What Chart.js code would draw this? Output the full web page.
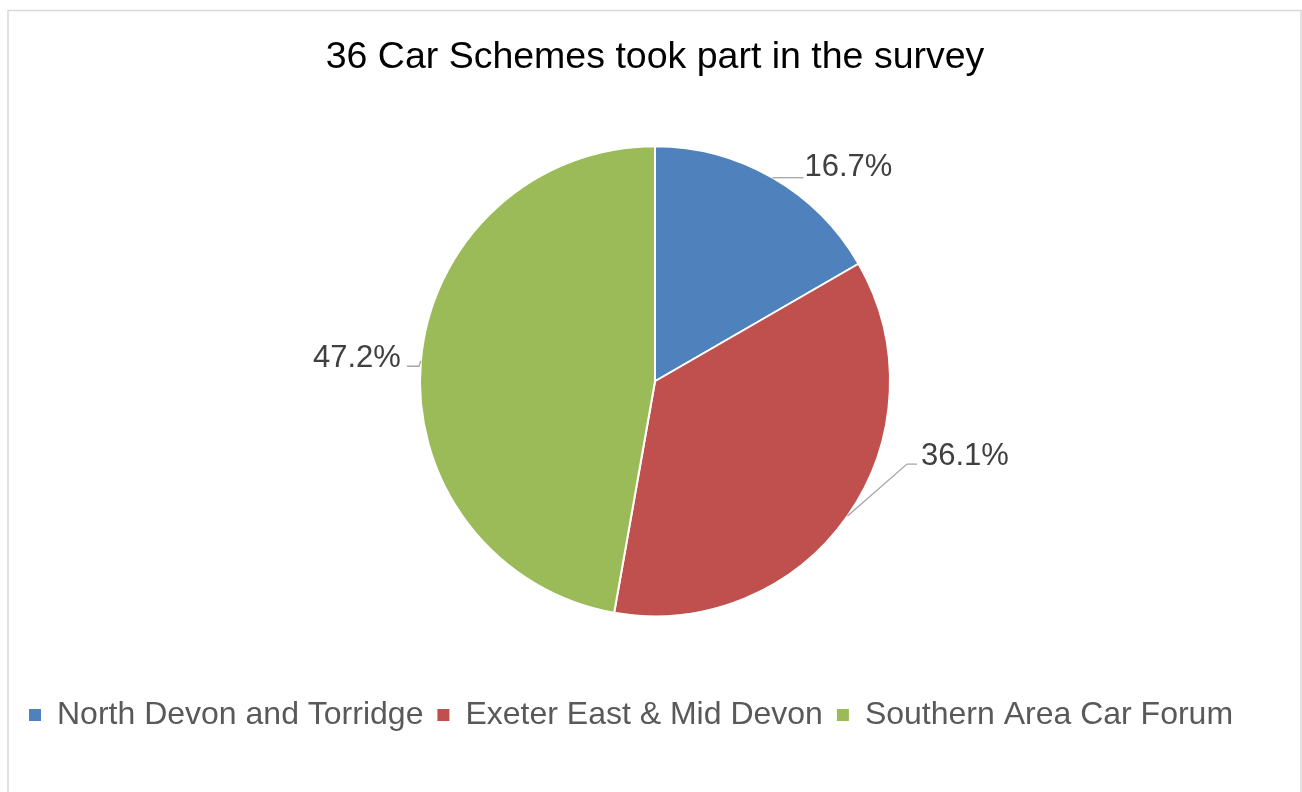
<!DOCTYPE html>
<html>
<head>
<meta charset="utf-8">
<title>Car Schemes survey</title>
<script src="https://cdn.jsdelivr.net/npm/chart.js@4.4.0/dist/chart.umd.min.js"></script>
<style>
  html, body { margin: 0; padding: 0; background: #fff; }
  #wrap { width: 1302px; height: 792px; }
</style>
</head>
<body>
<div id="wrap"><canvas id="schemesChart" width="1302" height="792"></canvas></div>
<script>
// ======================================
// DATA
// ======================================
const chartTitle = "36 Car Schemes took part in the survey";
const areas = ["North Devon and Torridge", "Exeter East & Mid Devon", "Southern Area Car Forum"];
const schemeCounts = [6, 13, 17];

const totalSchemes = schemeCounts.reduce((a, b) => a + b, 0);
const percentLabels = schemeCounts.map(v => (v / totalSchemes * 100).toFixed(1) + "%");

Chart.defaults.font.family = "'Liberation Sans', Arial, sans-serif";

// ======================================
// Light grey frame round the whole chart
// ======================================
const chartFrame = {
    id: "chartFrame",
    beforeDraw(chart) {
        const ctx = chart.ctx;
        ctx.save();
        ctx.fillStyle = "#fff";
        ctx.fillRect(0, 0, chart.width, chart.height);
        ctx.strokeStyle = "#d9d9d9";
        ctx.lineWidth = 1.5;
        ctx.strokeRect(8, 10.5, 1293, chart.height + 20);
        ctx.restore();
    }
};

// ======================================
// Percentage labels with leader lines
// ======================================
const leaderLabels = {
    id: "leaderLabels",
    afterDatasetsDraw(chart, args, opts) {
        const ctx = chart.ctx;
        const arcs = chart.getDatasetMeta(0).data;
        ctx.save();
        ctx.font = "31px 'Liberation Sans', Arial, sans-serif";
        ctx.textBaseline = "middle";
        arcs.forEach((arc, i) => {
            const p = arc.getProps(["x", "y", "startAngle", "endAngle", "outerRadius"], true);
            const mid = (p.startAngle + p.endAngle) / 2;
            const ax = p.x + Math.cos(mid) * p.outerRadius;
            const ay = p.y + Math.sin(mid) * p.outerRadius;
            const o = opts.placement[i];
            const bx = ax + o.bend[0];
            const by = ay + o.bend[1];
            const ex = bx + o.run;

            ctx.strokeStyle = "#a6a6a6";
            ctx.lineWidth = 1.3;
            ctx.beginPath();
            ctx.moveTo(ax, ay);
            ctx.lineTo(bx, by);
            ctx.lineTo(ex, by);
            ctx.stroke();

            ctx.fillStyle = "#404040";
            ctx.textAlign = o.run < 0 ? "right" : "left";
            ctx.fillText(percentLabels[i], ex + (o.run < 0 ? -o.gap : o.gap), by + o.lift);
        });
        ctx.restore();
    }
};

const ctx = document.getElementById("schemesChart").getContext("2d");

new Chart(ctx, {
    type: "pie",
    data: {
        labels: areas,
        datasets: [{
            data: schemeCounts,
            backgroundColor: ["#4f81bd", "#c0504d", "#9bbb59"],
            borderColor: "#ffffff",
            borderWidth: 2,
            radius: 235
        }]
    },
    options: {
        responsive: false,
        animation: false,
        events: [],
        layout: { padding: { left: 15, right: 7, top: 0, bottom: 51 } },
        plugins: {
            title: {
                display: true,
                text: chartTitle,
                color: "#000000",
                font: { size: 37.5, weight: "normal", lineHeight: 1 },
                padding: { top: 38.5, bottom: 1.5 }
            },
            legend: {
                position: "bottom",
                align: "start",
                labels: {
                    color: "#595959",
                    font: { size: 32 },
                    boxWidth: 12,
                    boxHeight: 12,
                    padding: 14,
                    generateLabels(chart) {
                        const items = Chart.overrides.pie.plugins.legend.labels.generateLabels(chart);
                        items.forEach(it => { it.lineWidth = 0; });
                        return items;
                    }
                }
            },
            tooltip: { enabled: false },
            leaderLabels: {
                placement: [
                    { bend: [0, 0], run: 31, gap: 1, lift: -10.5 },
                    { bend: [59.5, -52], run: 10, gap: 4, lift: -8 },
                    { bend: [-2, 5.5], run: -12, gap: 6, lift: -8 }
                ]
            }
        }
    },
    plugins: [chartFrame, leaderLabels]
});
</script>
</body>
</html>
